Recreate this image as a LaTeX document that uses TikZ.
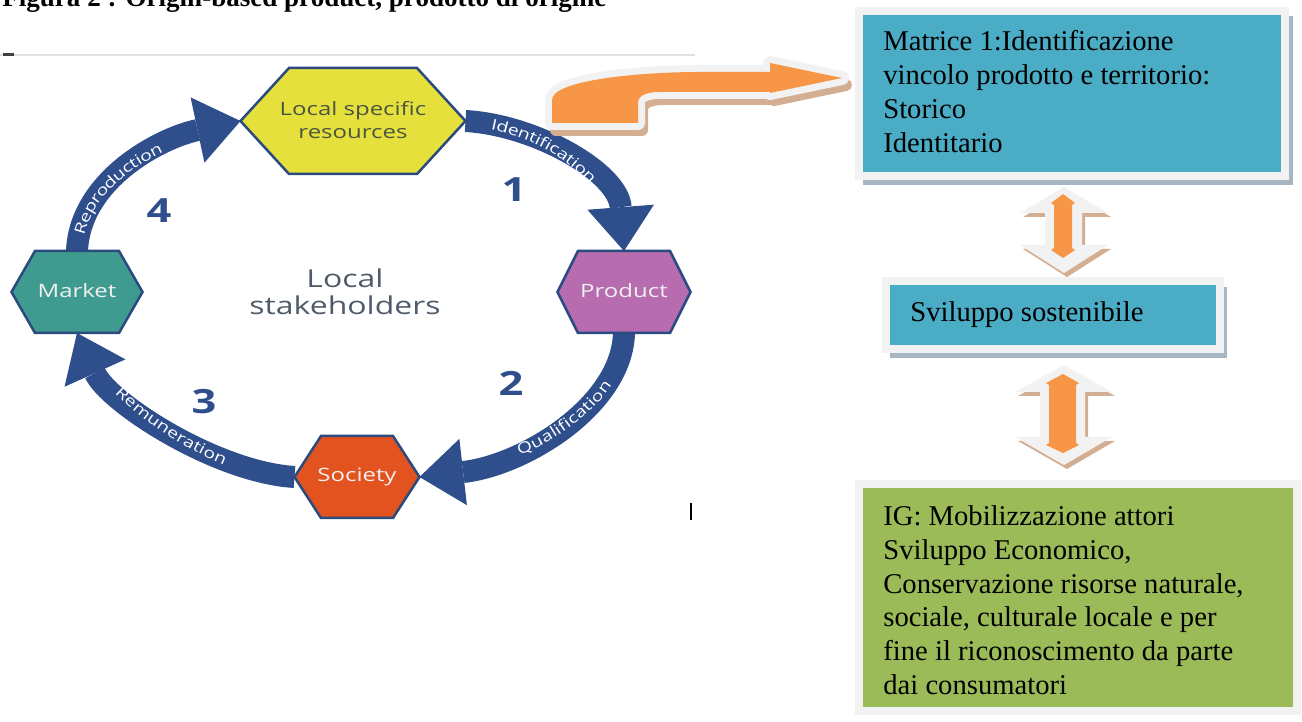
\documentclass[tikz,border=0pt]{standalone}
\usepackage{fontspec}
\setmainfont{Liberation Serif}
\newfontfamily\diag[FakeStretch=1.3]{Open Sans}
\usetikzlibrary{arrows.meta,decorations.text}
\newdimen\px \px=0.02cm
\definecolor{arrowblue}{HTML}{2F4E8C}
\definecolor{hexline}{HTML}{2B4A7E}
\definecolor{locfill}{HTML}{E6E03C}
\definecolor{prodfill}{HTML}{B76CB0}
\definecolor{mktfill}{HTML}{3F9B8F}
\definecolor{socfill}{HTML}{E2531F}
\definecolor{loctext}{HTML}{4A5540}
\definecolor{stake}{HTML}{4F5B6B}
\definecolor{tealbox}{HTML}{4BACC6}
\definecolor{greenbox}{HTML}{9BBB59}
\definecolor{framegray}{HTML}{F2F2F2}
\definecolor{boxshadow}{HTML}{A7B6C2}
\definecolor{brownshadow}{HTML}{D3AE92}
\definecolor{orangefill}{HTML}{F79646}
\newcommand\labfont{\diag\fontsize{8.5}{10}\selectfont\color{white}}
\newcommand\hexdraw[3]{%
  \draw[hexstyle, fill=#3] (#1.west) -- ([xshift=-#2\px]#1.north) -- ([xshift=#2\px]#1.north) -- (#1.east) -- ([xshift=#2\px]#1.south) -- ([xshift=-#2\px]#1.south) -- cycle;}
\tikzset{
  hexbox/.style 2 args={draw=none, inner sep=0, outer sep=0, minimum width=#1\px, minimum height=#2\px},
  hexstyle/.style={draw=hexline, line width=2.5\px, line join=miter},
  hexlabel/.style={font=\diag\fontsize{10.5}{13}\selectfont, align=center, inner sep=0},
  bluearrow/.style={draw=arrowblue, line width=22\px, -{Triangle[length=25pt,width=38pt,line width=0pt]}},
  arrowlabel/.style 2 args={decorate, decoration={text along path, text align={left, left indent=#2}, raise=-3pt, text={|\labfont|#1}}},
  numstyle/.style={font=\diag\bfseries\fontsize{19}{22}\selectfont, text=arrowblue, inner sep=0},
  boxtext/.style={font=\fontsize{16.3}{19.3}\selectfont, align=left, inner sep=0, text=black},
  framed/.style={draw=framegray, line width=8\px},
}
\begin{document}
\begin{tikzpicture}[x=0.02cm, y=-0.02cm]
\useasboundingbox (0,0) rectangle (1302,722);
\clip (0,0) rectangle (1302,722);

% title (cut at top)
\node[anchor=base west, inner sep=0, font=\bfseries\fontsize{15.4}{18}\selectfont] (title) at (2,7) {Figura 2 : Origin-based product, prodotto di origine};

% border of embedded image
\draw[black!12, line width=2\px] (0,55) -- (695,55);
\draw[black!75, line width=3\px] (3,55) -- (14,55);
\draw[black, line width=2.5\px] (691,503) -- (691,520);

% hexagon anchors
\node[hexbox={225}{106}] (loc) at (353,121) {};
\node[hexbox={133}{82}] (prod) at (624,292) {};
\node[hexbox={131}{82}] (mkt) at (77,292) {};
\node[hexbox={125}{82}] (soc) at (357,477) {};

% cycle arrows
\draw[bluearrow] (loc.east) .. controls (535,125) and (618,172) .. (prod.north);
\draw[bluearrow] (prod.south) .. controls (622,405) and (525,465) .. (soc.east);
\draw[bluearrow] (soc.west) .. controls (215,472) and (108,402) .. (mkt.south);
\draw[bluearrow] (mkt.north) .. controls (80,180) and (160,138) .. (loc.west);

\path[arrowlabel={Identification}{15pt}] (loc.east) .. controls (535,125) and (618,172) .. (prod.north);
\path[arrowlabel={Qualification}{58pt}] (soc.east) .. controls (525,465) and (622,405) .. (prod.south);
\path[arrowlabel={Remuneration}{40pt}] (mkt.south) .. controls (108,402) and (215,472) .. (soc.west);
\path[arrowlabel={Reproduction}{10pt}] (mkt.north) .. controls (80,180) and (160,138) .. (loc.west);

% hexagons
\hexdraw{loc}{64}{locfill}
\hexdraw{prod}{46}{prodfill}
\hexdraw{mkt}{42}{mktfill}
\hexdraw{soc}{36}{socfill}

\node[hexlabel, text=loctext] (locT) at (353,120) {Local specific\\resources};
\node[hexlabel, text=white!94!black] (prodT) at (624,291) {Product};
\node[hexlabel, text=white!94!black] (mktT) at (77,291) {Market};
\node[hexlabel, text=white!94!black] (socT) at (357,477) {Society};

\node[font=\diag\fontsize{14}{15.3}\selectfont, text=stake, align=center, inner sep=0] (stake) at (345,292) {Local\\stakeholders};

\node[numstyle] (n1) at (514,190) {1};
\node[numstyle] (n2) at (511,383) {2};
\node[numstyle] (n3) at (204,402) {3};
\node[numstyle] (n4) at (159,211) {4};

% curved block arrow to box 1
\filldraw[brownshadow, line width=12\px, line join=round, shift={(4,7)}] (552,123) -- (552,100) .. controls (552,80) and (640,72) .. (700,72) -- (770,72) -- (770,63) -- (842,78) -- (770,93) -- (770,92) -- (660,92) .. controls (645,92) and (638,96) .. (638,103) -- (638,123) -- cycle;
\filldraw[framegray, line width=14\px, line join=round] (552,123) -- (552,100) .. controls (552,80) and (640,72) .. (700,72) -- (770,72) -- (770,63) -- (842,78) -- (770,93) -- (770,92) -- (660,92) .. controls (645,92) and (638,96) .. (638,103) -- (638,123) -- cycle;
\fill[orangefill] (552,123) -- (552,100) .. controls (552,80) and (640,72) .. (700,72) -- (770,72) -- (770,63) -- (842,78) -- (770,93) -- (770,92) -- (660,92) .. controls (645,92) and (638,96) .. (638,103) -- (638,123) -- cycle;

% box 1
\fill[boxshadow] (863,16) rectangle (1293,185);
\filldraw[framed, fill=tealbox] (859,11) rectangle (1285,176);
\node[boxtext, anchor=north west] (m1) at (883,30) {Matrice 1:Identificazione\\vincolo prodotto e territorio:\\Storico\\Identitario};

% box 2
\fill[boxshadow] (890,287) rectangle (1227,358);
\filldraw[framed, fill=tealbox] (886,281) rectangle (1220,349);
\node[boxtext, anchor=base west] (svil) at (910,322) {Sviluppo sostenibile};

% box 3
\filldraw[framed, fill=greenbox] (859,484) rectangle (1297,711);
\node[boxtext, anchor=north west] (ig) at (883,505) {IG: Mobilizzazione attori\\Sviluppo Economico,\\Conservazione risorse naturale,\\sociale, culturale locale e per\\fine il riconoscimento da parte\\dai consumatori};

% double arrow A
\fill[brownshadow, shift={(3,4)}] (1064,187) -- (1108,213) -- (1082,213) -- (1082,245) -- (1108,245) -- (1064,273) -- (1020,245) -- (1045,245) -- (1045,213) -- (1020,213) -- cycle;
\fill[framegray] (1064,187) -- (1108,213) -- (1082,213) -- (1082,245) -- (1108,245) -- (1064,273) -- (1020,245) -- (1045,245) -- (1045,213) -- (1020,213) -- cycle;
\fill[orangefill] (1063,194) -- (1075,203) -- (1072,205) -- (1072,248) -- (1075,250) -- (1063,258) -- (1051,250) -- (1054,248) -- (1054,205) -- (1051,203) -- cycle;

% double arrow B
\fill[brownshadow, shift={(3,4)}] (1064,365) -- (1112,392) -- (1085,392) -- (1085,437) -- (1112,437) -- (1064,465) -- (1015,437) -- (1040,437) -- (1040,392) -- (1015,392) -- cycle;
\fill[framegray] (1064,365) -- (1112,392) -- (1085,392) -- (1085,437) -- (1112,437) -- (1064,465) -- (1015,437) -- (1040,437) -- (1040,392) -- (1015,392) -- cycle;
\fill[orangefill] (1063,374) -- (1079,383) -- (1076,385) -- (1076,443) -- (1079,445) -- (1063,453) -- (1046,445) -- (1049,443) -- (1049,385) -- (1046,383) -- cycle;
\end{tikzpicture}
\end{document}
